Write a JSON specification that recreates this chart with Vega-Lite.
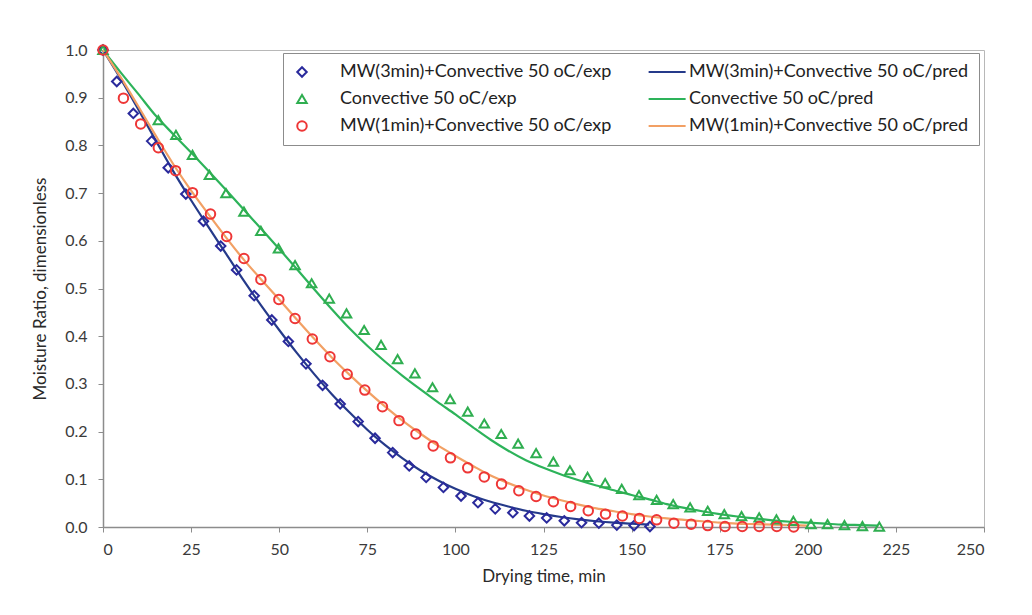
{
  "$schema": "https://vega.github.io/schema/vega-lite/v6.json",
  "width": 881,
  "height": 477,
  "autosize": {"type": "none"},
  "padding": {"left": 103, "top": 50, "right": 48, "bottom": 88},
  "background": "white",
  "config": {
    "font": "Lato",
    "view": {"stroke": "#b8b8b8", "strokeWidth": 1},
    "axis": {
      "domainColor": "#8c8c8c", "domainWidth": 1.5, "tickColor": "#8c8c8c", "tickSize": 5,
      "labelFont": "Lato", "labelFontSize": 16, "labelColor": "#3a3a3a",
      "titleFont": "Lato", "titleFontSize": 17, "titleFontWeight": "normal", "titleColor": "#2a2a2a",
      "grid": false
    }
  },
  "datasets": {
    "exp": [
      {"series": "MW(3min)+Convective 50 oC/exp", "t": 0, "mr": 1.0},
      {"series": "MW(3min)+Convective 50 oC/exp", "t": 3.9, "mr": 0.934},
      {"series": "MW(3min)+Convective 50 oC/exp", "t": 8.6, "mr": 0.867},
      {"series": "MW(3min)+Convective 50 oC/exp", "t": 13.8, "mr": 0.809},
      {"series": "MW(3min)+Convective 50 oC/exp", "t": 18.5, "mr": 0.753},
      {"series": "MW(3min)+Convective 50 oC/exp", "t": 23.5, "mr": 0.698},
      {"series": "MW(3min)+Convective 50 oC/exp", "t": 28.5, "mr": 0.641},
      {"series": "MW(3min)+Convective 50 oC/exp", "t": 33.4, "mr": 0.589},
      {"series": "MW(3min)+Convective 50 oC/exp", "t": 37.9, "mr": 0.539},
      {"series": "MW(3min)+Convective 50 oC/exp", "t": 42.9, "mr": 0.485},
      {"series": "MW(3min)+Convective 50 oC/exp", "t": 47.9, "mr": 0.434},
      {"series": "MW(3min)+Convective 50 oC/exp", "t": 52.6, "mr": 0.389},
      {"series": "MW(3min)+Convective 50 oC/exp", "t": 57.6, "mr": 0.342},
      {"series": "MW(3min)+Convective 50 oC/exp", "t": 62.3, "mr": 0.297},
      {"series": "MW(3min)+Convective 50 oC/exp", "t": 67.3, "mr": 0.258},
      {"series": "MW(3min)+Convective 50 oC/exp", "t": 72.4, "mr": 0.221},
      {"series": "MW(3min)+Convective 50 oC/exp", "t": 77.2, "mr": 0.186},
      {"series": "MW(3min)+Convective 50 oC/exp", "t": 82.2, "mr": 0.156},
      {"series": "MW(3min)+Convective 50 oC/exp", "t": 86.9, "mr": 0.128},
      {"series": "MW(3min)+Convective 50 oC/exp", "t": 91.7, "mr": 0.104},
      {"series": "MW(3min)+Convective 50 oC/exp", "t": 96.6, "mr": 0.083},
      {"series": "MW(3min)+Convective 50 oC/exp", "t": 101.6, "mr": 0.065},
      {"series": "MW(3min)+Convective 50 oC/exp", "t": 106.4, "mr": 0.051},
      {"series": "MW(3min)+Convective 50 oC/exp", "t": 111.3, "mr": 0.038},
      {"series": "MW(3min)+Convective 50 oC/exp", "t": 116.3, "mr": 0.030},
      {"series": "MW(3min)+Convective 50 oC/exp", "t": 121.0, "mr": 0.023},
      {"series": "MW(3min)+Convective 50 oC/exp", "t": 125.9, "mr": 0.019},
      {"series": "MW(3min)+Convective 50 oC/exp", "t": 130.9, "mr": 0.013},
      {"series": "MW(3min)+Convective 50 oC/exp", "t": 135.8, "mr": 0.009},
      {"series": "MW(3min)+Convective 50 oC/exp", "t": 140.7, "mr": 0.008},
      {"series": "MW(3min)+Convective 50 oC/exp", "t": 145.8, "mr": 0.004},
      {"series": "MW(3min)+Convective 50 oC/exp", "t": 150.7, "mr": 0.003},
      {"series": "MW(3min)+Convective 50 oC/exp", "t": 155.2, "mr": 0.001},
      {"series": "Convective 50 oC/exp", "t": 0, "mr": 1.0},
      {"series": "Convective 50 oC/exp", "t": 15.7, "mr": 0.853},
      {"series": "Convective 50 oC/exp", "t": 20.7, "mr": 0.822},
      {"series": "Convective 50 oC/exp", "t": 25.4, "mr": 0.780},
      {"series": "Convective 50 oC/exp", "t": 30.2, "mr": 0.738},
      {"series": "Convective 50 oC/exp", "t": 34.9, "mr": 0.700},
      {"series": "Convective 50 oC/exp", "t": 40.0, "mr": 0.661},
      {"series": "Convective 50 oC/exp", "t": 44.8, "mr": 0.621},
      {"series": "Convective 50 oC/exp", "t": 49.8, "mr": 0.584},
      {"series": "Convective 50 oC/exp", "t": 54.5, "mr": 0.549},
      {"series": "Convective 50 oC/exp", "t": 59.2, "mr": 0.511},
      {"series": "Convective 50 oC/exp", "t": 64.2, "mr": 0.479},
      {"series": "Convective 50 oC/exp", "t": 69.1, "mr": 0.448},
      {"series": "Convective 50 oC/exp", "t": 74.1, "mr": 0.413},
      {"series": "Convective 50 oC/exp", "t": 78.9, "mr": 0.382},
      {"series": "Convective 50 oC/exp", "t": 83.6, "mr": 0.352},
      {"series": "Convective 50 oC/exp", "t": 88.5, "mr": 0.322},
      {"series": "Convective 50 oC/exp", "t": 93.5, "mr": 0.293},
      {"series": "Convective 50 oC/exp", "t": 98.5, "mr": 0.268},
      {"series": "Convective 50 oC/exp", "t": 103.5, "mr": 0.242},
      {"series": "Convective 50 oC/exp", "t": 108.2, "mr": 0.217},
      {"series": "Convective 50 oC/exp", "t": 113.0, "mr": 0.195},
      {"series": "Convective 50 oC/exp", "t": 117.8, "mr": 0.175},
      {"series": "Convective 50 oC/exp", "t": 122.9, "mr": 0.155},
      {"series": "Convective 50 oC/exp", "t": 127.8, "mr": 0.137},
      {"series": "Convective 50 oC/exp", "t": 132.5, "mr": 0.119},
      {"series": "Convective 50 oC/exp", "t": 137.5, "mr": 0.105},
      {"series": "Convective 50 oC/exp", "t": 142.5, "mr": 0.092},
      {"series": "Convective 50 oC/exp", "t": 147.2, "mr": 0.080},
      {"series": "Convective 50 oC/exp", "t": 152.1, "mr": 0.067},
      {"series": "Convective 50 oC/exp", "t": 157.1, "mr": 0.057},
      {"series": "Convective 50 oC/exp", "t": 161.8, "mr": 0.048},
      {"series": "Convective 50 oC/exp", "t": 166.6, "mr": 0.041},
      {"series": "Convective 50 oC/exp", "t": 171.6, "mr": 0.034},
      {"series": "Convective 50 oC/exp", "t": 176.3, "mr": 0.027},
      {"series": "Convective 50 oC/exp", "t": 181.2, "mr": 0.023},
      {"series": "Convective 50 oC/exp", "t": 186.2, "mr": 0.020},
      {"series": "Convective 50 oC/exp", "t": 191.1, "mr": 0.016},
      {"series": "Convective 50 oC/exp", "t": 195.9, "mr": 0.013},
      {"series": "Convective 50 oC/exp", "t": 200.9, "mr": 0.006},
      {"series": "Convective 50 oC/exp", "t": 205.6, "mr": 0.006},
      {"series": "Convective 50 oC/exp", "t": 210.4, "mr": 0.004},
      {"series": "Convective 50 oC/exp", "t": 215.5, "mr": 0.002},
      {"series": "Convective 50 oC/exp", "t": 220.3, "mr": 0.001},
      {"series": "MW(1min)+Convective 50 oC/exp", "t": 0, "mr": 1.0},
      {"series": "MW(1min)+Convective 50 oC/exp", "t": 5.8, "mr": 0.899},
      {"series": "MW(1min)+Convective 50 oC/exp", "t": 10.7, "mr": 0.845},
      {"series": "MW(1min)+Convective 50 oC/exp", "t": 15.7, "mr": 0.795},
      {"series": "MW(1min)+Convective 50 oC/exp", "t": 20.6, "mr": 0.747},
      {"series": "MW(1min)+Convective 50 oC/exp", "t": 25.4, "mr": 0.701},
      {"series": "MW(1min)+Convective 50 oC/exp", "t": 30.5, "mr": 0.656},
      {"series": "MW(1min)+Convective 50 oC/exp", "t": 35.1, "mr": 0.609},
      {"series": "MW(1min)+Convective 50 oC/exp", "t": 40.0, "mr": 0.563},
      {"series": "MW(1min)+Convective 50 oC/exp", "t": 44.8, "mr": 0.519},
      {"series": "MW(1min)+Convective 50 oC/exp", "t": 49.9, "mr": 0.477},
      {"series": "MW(1min)+Convective 50 oC/exp", "t": 54.5, "mr": 0.437},
      {"series": "MW(1min)+Convective 50 oC/exp", "t": 59.4, "mr": 0.394},
      {"series": "MW(1min)+Convective 50 oC/exp", "t": 64.4, "mr": 0.357},
      {"series": "MW(1min)+Convective 50 oC/exp", "t": 69.3, "mr": 0.320},
      {"series": "MW(1min)+Convective 50 oC/exp", "t": 74.3, "mr": 0.287},
      {"series": "MW(1min)+Convective 50 oC/exp", "t": 79.3, "mr": 0.252},
      {"series": "MW(1min)+Convective 50 oC/exp", "t": 84.0, "mr": 0.223},
      {"series": "MW(1min)+Convective 50 oC/exp", "t": 88.8, "mr": 0.195},
      {"series": "MW(1min)+Convective 50 oC/exp", "t": 93.7, "mr": 0.170},
      {"series": "MW(1min)+Convective 50 oC/exp", "t": 98.6, "mr": 0.145},
      {"series": "MW(1min)+Convective 50 oC/exp", "t": 103.5, "mr": 0.124},
      {"series": "MW(1min)+Convective 50 oC/exp", "t": 108.2, "mr": 0.105},
      {"series": "MW(1min)+Convective 50 oC/exp", "t": 113.1, "mr": 0.090},
      {"series": "MW(1min)+Convective 50 oC/exp", "t": 118.0, "mr": 0.076},
      {"series": "MW(1min)+Convective 50 oC/exp", "t": 122.9, "mr": 0.064},
      {"series": "MW(1min)+Convective 50 oC/exp", "t": 127.8, "mr": 0.053},
      {"series": "MW(1min)+Convective 50 oC/exp", "t": 132.7, "mr": 0.043},
      {"series": "MW(1min)+Convective 50 oC/exp", "t": 137.7, "mr": 0.034},
      {"series": "MW(1min)+Convective 50 oC/exp", "t": 142.6, "mr": 0.027},
      {"series": "MW(1min)+Convective 50 oC/exp", "t": 147.4, "mr": 0.023},
      {"series": "MW(1min)+Convective 50 oC/exp", "t": 152.2, "mr": 0.018},
      {"series": "MW(1min)+Convective 50 oC/exp", "t": 157.1, "mr": 0.015},
      {"series": "MW(1min)+Convective 50 oC/exp", "t": 162.0, "mr": 0.008},
      {"series": "MW(1min)+Convective 50 oC/exp", "t": 166.9, "mr": 0.006},
      {"series": "MW(1min)+Convective 50 oC/exp", "t": 171.6, "mr": 0.003},
      {"series": "MW(1min)+Convective 50 oC/exp", "t": 176.5, "mr": 0.001},
      {"series": "MW(1min)+Convective 50 oC/exp", "t": 181.4, "mr": 0.001},
      {"series": "MW(1min)+Convective 50 oC/exp", "t": 186.2, "mr": 0.001},
      {"series": "MW(1min)+Convective 50 oC/exp", "t": 191.2, "mr": 0.001},
      {"series": "MW(1min)+Convective 50 oC/exp", "t": 196.0, "mr": 0.0}
    ],
    "pred": [
      {"series": "MW(3min)+Convective 50 oC/pred", "t": 0, "mr": 1.0},
      {"series": "MW(3min)+Convective 50 oC/pred", "t": 5, "mr": 0.94},
      {"series": "MW(3min)+Convective 50 oC/pred", "t": 10, "mr": 0.876},
      {"series": "MW(3min)+Convective 50 oC/pred", "t": 15, "mr": 0.81},
      {"series": "MW(3min)+Convective 50 oC/pred", "t": 20, "mr": 0.745},
      {"series": "MW(3min)+Convective 50 oC/pred", "t": 25, "mr": 0.685},
      {"series": "MW(3min)+Convective 50 oC/pred", "t": 30, "mr": 0.628},
      {"series": "MW(3min)+Convective 50 oC/pred", "t": 35, "mr": 0.572},
      {"series": "MW(3min)+Convective 50 oC/pred", "t": 40, "mr": 0.516},
      {"series": "MW(3min)+Convective 50 oC/pred", "t": 45, "mr": 0.463},
      {"series": "MW(3min)+Convective 50 oC/pred", "t": 50, "mr": 0.413},
      {"series": "MW(3min)+Convective 50 oC/pred", "t": 55, "mr": 0.365},
      {"series": "MW(3min)+Convective 50 oC/pred", "t": 60, "mr": 0.320},
      {"series": "MW(3min)+Convective 50 oC/pred", "t": 65, "mr": 0.278},
      {"series": "MW(3min)+Convective 50 oC/pred", "t": 70, "mr": 0.240},
      {"series": "MW(3min)+Convective 50 oC/pred", "t": 75, "mr": 0.204},
      {"series": "MW(3min)+Convective 50 oC/pred", "t": 80, "mr": 0.172},
      {"series": "MW(3min)+Convective 50 oC/pred", "t": 85, "mr": 0.144},
      {"series": "MW(3min)+Convective 50 oC/pred", "t": 90, "mr": 0.119},
      {"series": "MW(3min)+Convective 50 oC/pred", "t": 95, "mr": 0.098},
      {"series": "MW(3min)+Convective 50 oC/pred", "t": 100, "mr": 0.080},
      {"series": "MW(3min)+Convective 50 oC/pred", "t": 105, "mr": 0.065},
      {"series": "MW(3min)+Convective 50 oC/pred", "t": 110, "mr": 0.053},
      {"series": "MW(3min)+Convective 50 oC/pred", "t": 115, "mr": 0.043},
      {"series": "MW(3min)+Convective 50 oC/pred", "t": 120, "mr": 0.034},
      {"series": "MW(3min)+Convective 50 oC/pred", "t": 125, "mr": 0.027},
      {"series": "MW(3min)+Convective 50 oC/pred", "t": 130, "mr": 0.021},
      {"series": "MW(3min)+Convective 50 oC/pred", "t": 135, "mr": 0.016},
      {"series": "MW(3min)+Convective 50 oC/pred", "t": 140, "mr": 0.012},
      {"series": "MW(3min)+Convective 50 oC/pred", "t": 145, "mr": 0.009},
      {"series": "MW(3min)+Convective 50 oC/pred", "t": 150, "mr": 0.007},
      {"series": "MW(3min)+Convective 50 oC/pred", "t": 155, "mr": 0.005},
      {"series": "Convective 50 oC/pred", "t": 0, "mr": 1.0},
      {"series": "Convective 50 oC/pred", "t": 5, "mr": 0.953},
      {"series": "Convective 50 oC/pred", "t": 10, "mr": 0.908},
      {"series": "Convective 50 oC/pred", "t": 15, "mr": 0.862},
      {"series": "Convective 50 oC/pred", "t": 20, "mr": 0.823},
      {"series": "Convective 50 oC/pred", "t": 25, "mr": 0.785},
      {"series": "Convective 50 oC/pred", "t": 30, "mr": 0.746},
      {"series": "Convective 50 oC/pred", "t": 35, "mr": 0.706},
      {"series": "Convective 50 oC/pred", "t": 40, "mr": 0.665},
      {"series": "Convective 50 oC/pred", "t": 45, "mr": 0.624},
      {"series": "Convective 50 oC/pred", "t": 50, "mr": 0.583},
      {"series": "Convective 50 oC/pred", "t": 55, "mr": 0.541},
      {"series": "Convective 50 oC/pred", "t": 60, "mr": 0.498},
      {"series": "Convective 50 oC/pred", "t": 65, "mr": 0.456},
      {"series": "Convective 50 oC/pred", "t": 70, "mr": 0.416},
      {"series": "Convective 50 oC/pred", "t": 75, "mr": 0.380},
      {"series": "Convective 50 oC/pred", "t": 80, "mr": 0.347},
      {"series": "Convective 50 oC/pred", "t": 85, "mr": 0.317},
      {"series": "Convective 50 oC/pred", "t": 90, "mr": 0.289},
      {"series": "Convective 50 oC/pred", "t": 95, "mr": 0.262},
      {"series": "Convective 50 oC/pred", "t": 100, "mr": 0.236},
      {"series": "Convective 50 oC/pred", "t": 105, "mr": 0.209},
      {"series": "Convective 50 oC/pred", "t": 110, "mr": 0.183},
      {"series": "Convective 50 oC/pred", "t": 115, "mr": 0.160},
      {"series": "Convective 50 oC/pred", "t": 120, "mr": 0.140},
      {"series": "Convective 50 oC/pred", "t": 125, "mr": 0.124},
      {"series": "Convective 50 oC/pred", "t": 130, "mr": 0.110},
      {"series": "Convective 50 oC/pred", "t": 135, "mr": 0.098},
      {"series": "Convective 50 oC/pred", "t": 140, "mr": 0.087},
      {"series": "Convective 50 oC/pred", "t": 145, "mr": 0.077},
      {"series": "Convective 50 oC/pred", "t": 150, "mr": 0.067},
      {"series": "Convective 50 oC/pred", "t": 155, "mr": 0.058},
      {"series": "Convective 50 oC/pred", "t": 160, "mr": 0.048},
      {"series": "Convective 50 oC/pred", "t": 165, "mr": 0.040},
      {"series": "Convective 50 oC/pred", "t": 170, "mr": 0.033},
      {"series": "Convective 50 oC/pred", "t": 175, "mr": 0.027},
      {"series": "Convective 50 oC/pred", "t": 180, "mr": 0.022},
      {"series": "Convective 50 oC/pred", "t": 185, "mr": 0.018},
      {"series": "Convective 50 oC/pred", "t": 190, "mr": 0.014},
      {"series": "Convective 50 oC/pred", "t": 195, "mr": 0.011},
      {"series": "Convective 50 oC/pred", "t": 200, "mr": 0.009},
      {"series": "Convective 50 oC/pred", "t": 205, "mr": 0.007},
      {"series": "Convective 50 oC/pred", "t": 210, "mr": 0.005},
      {"series": "Convective 50 oC/pred", "t": 215, "mr": 0.004},
      {"series": "Convective 50 oC/pred", "t": 220, "mr": 0.003},
      {"series": "MW(1min)+Convective 50 oC/pred", "t": 0, "mr": 1.0},
      {"series": "MW(1min)+Convective 50 oC/pred", "t": 5, "mr": 0.943},
      {"series": "MW(1min)+Convective 50 oC/pred", "t": 10, "mr": 0.882},
      {"series": "MW(1min)+Convective 50 oC/pred", "t": 15, "mr": 0.82},
      {"series": "MW(1min)+Convective 50 oC/pred", "t": 20, "mr": 0.76},
      {"series": "MW(1min)+Convective 50 oC/pred", "t": 25, "mr": 0.705},
      {"series": "MW(1min)+Convective 50 oC/pred", "t": 30, "mr": 0.655},
      {"series": "MW(1min)+Convective 50 oC/pred", "t": 35, "mr": 0.606},
      {"series": "MW(1min)+Convective 50 oC/pred", "t": 40, "mr": 0.560},
      {"series": "MW(1min)+Convective 50 oC/pred", "t": 45, "mr": 0.518},
      {"series": "MW(1min)+Convective 50 oC/pred", "t": 50, "mr": 0.477},
      {"series": "MW(1min)+Convective 50 oC/pred", "t": 55, "mr": 0.435},
      {"series": "MW(1min)+Convective 50 oC/pred", "t": 60, "mr": 0.394},
      {"series": "MW(1min)+Convective 50 oC/pred", "t": 65, "mr": 0.355},
      {"series": "MW(1min)+Convective 50 oC/pred", "t": 70, "mr": 0.319},
      {"series": "MW(1min)+Convective 50 oC/pred", "t": 75, "mr": 0.285},
      {"series": "MW(1min)+Convective 50 oC/pred", "t": 80, "mr": 0.253},
      {"series": "MW(1min)+Convective 50 oC/pred", "t": 85, "mr": 0.223},
      {"series": "MW(1min)+Convective 50 oC/pred", "t": 90, "mr": 0.196},
      {"series": "MW(1min)+Convective 50 oC/pred", "t": 95, "mr": 0.171},
      {"series": "MW(1min)+Convective 50 oC/pred", "t": 100, "mr": 0.149},
      {"series": "MW(1min)+Convective 50 oC/pred", "t": 105, "mr": 0.128},
      {"series": "MW(1min)+Convective 50 oC/pred", "t": 110, "mr": 0.108},
      {"series": "MW(1min)+Convective 50 oC/pred", "t": 115, "mr": 0.092},
      {"series": "MW(1min)+Convective 50 oC/pred", "t": 120, "mr": 0.078},
      {"series": "MW(1min)+Convective 50 oC/pred", "t": 125, "mr": 0.066},
      {"series": "MW(1min)+Convective 50 oC/pred", "t": 130, "mr": 0.056},
      {"series": "MW(1min)+Convective 50 oC/pred", "t": 135, "mr": 0.047},
      {"series": "MW(1min)+Convective 50 oC/pred", "t": 140, "mr": 0.039},
      {"series": "MW(1min)+Convective 50 oC/pred", "t": 145, "mr": 0.033},
      {"series": "MW(1min)+Convective 50 oC/pred", "t": 150, "mr": 0.027},
      {"series": "MW(1min)+Convective 50 oC/pred", "t": 155, "mr": 0.022},
      {"series": "MW(1min)+Convective 50 oC/pred", "t": 160, "mr": 0.018},
      {"series": "MW(1min)+Convective 50 oC/pred", "t": 165, "mr": 0.015},
      {"series": "MW(1min)+Convective 50 oC/pred", "t": 170, "mr": 0.012},
      {"series": "MW(1min)+Convective 50 oC/pred", "t": 175, "mr": 0.009},
      {"series": "MW(1min)+Convective 50 oC/pred", "t": 180, "mr": 0.007},
      {"series": "MW(1min)+Convective 50 oC/pred", "t": 185, "mr": 0.006},
      {"series": "MW(1min)+Convective 50 oC/pred", "t": 190, "mr": 0.005},
      {"series": "MW(1min)+Convective 50 oC/pred", "t": 195, "mr": 0.004},
      {"series": "MW(1min)+Convective 50 oC/pred", "t": 200, "mr": 0.003}
    ]
  },
  "encoding": {
    "x": {
      "field": "t", "type": "quantitative",
      "scale": {"domain": [0, 250], "nice": false},
      "axis": {"title": "Drying time, min", "values": [0, 25, 50, 75, 100, 125, 150, 175, 200, 225, 250], "labelPadding": 9, "titlePadding": 11}
    },
    "y": {
      "field": "mr", "type": "quantitative",
      "scale": {"domain": [0, 1], "nice": false},
      "axis": {"title": "Moisture Ratio, dimensionless", "values": [0, 0.1, 0.2, 0.3, 0.4, 0.5, 0.6, 0.7, 0.8, 0.9, 1.0], "format": ".1f", "labelPadding": 11, "titlePadding": 15}
    },
    "color": {
      "field": "series", "type": "nominal",
      "scale": {
        "domain": ["MW(3min)+Convective 50 oC/exp", "Convective 50 oC/exp", "MW(1min)+Convective 50 oC/exp", "MW(3min)+Convective 50 oC/pred", "Convective 50 oC/pred", "MW(1min)+Convective 50 oC/pred"],
        "range": ["#2a2a9c", "#2fae50", "#ee3636", "#253a8a", "#2db35a", "#f2a064"]
      },
      "legend": {
        "title": null, "orient": "none", "legendX": 180, "legendY": 3, "columns": 2,
        "columnPadding": 30, "rowPadding": 9, "padding": 10,
        "strokeColor": "#8c8c8c", "fillColor": "white",
        "labelFont": "Lato", "labelFontSize": 18, "labelColor": "#222222", "labelOffset": 29, "labelLimit": 400,
        "symbolSize": 90, "symbolStrokeWidth": 2
      }
    }
  },
  "layer": [
    {
      "data": {"name": "pred"},
      "mark": {"type": "line", "strokeWidth": 2.2, "interpolate": "monotone"}
    },
    {
      "data": {"name": "exp"},
      "mark": {"type": "point", "filled": false, "strokeWidth": 2, "size": 90, "opacity": 1},
      "encoding": {
        "shape": {
          "field": "series", "type": "nominal",
          "scale": {
            "domain": ["MW(3min)+Convective 50 oC/exp", "Convective 50 oC/exp", "MW(1min)+Convective 50 oC/exp", "MW(3min)+Convective 50 oC/pred", "Convective 50 oC/pred", "MW(1min)+Convective 50 oC/pred"],
            "range": ["diamond", "triangle-up", "circle", "M-0.5,0H7.3", "M-0.5,0H7.3", "M-0.5,0H7.3"]
          },
          "legend": {
            "title": null, "orient": "none", "legendX": 180, "legendY": 3, "columns": 2,
            "columnPadding": 30, "rowPadding": 9, "padding": 10,
            "strokeColor": "#8c8c8c", "fillColor": "white",
            "labelFont": "Lato", "labelFontSize": 18, "labelColor": "#222222", "labelOffset": 29, "labelLimit": 400,
            "symbolSize": 90, "symbolStrokeWidth": 2
          }
        }
      }
    }
  ]
}
